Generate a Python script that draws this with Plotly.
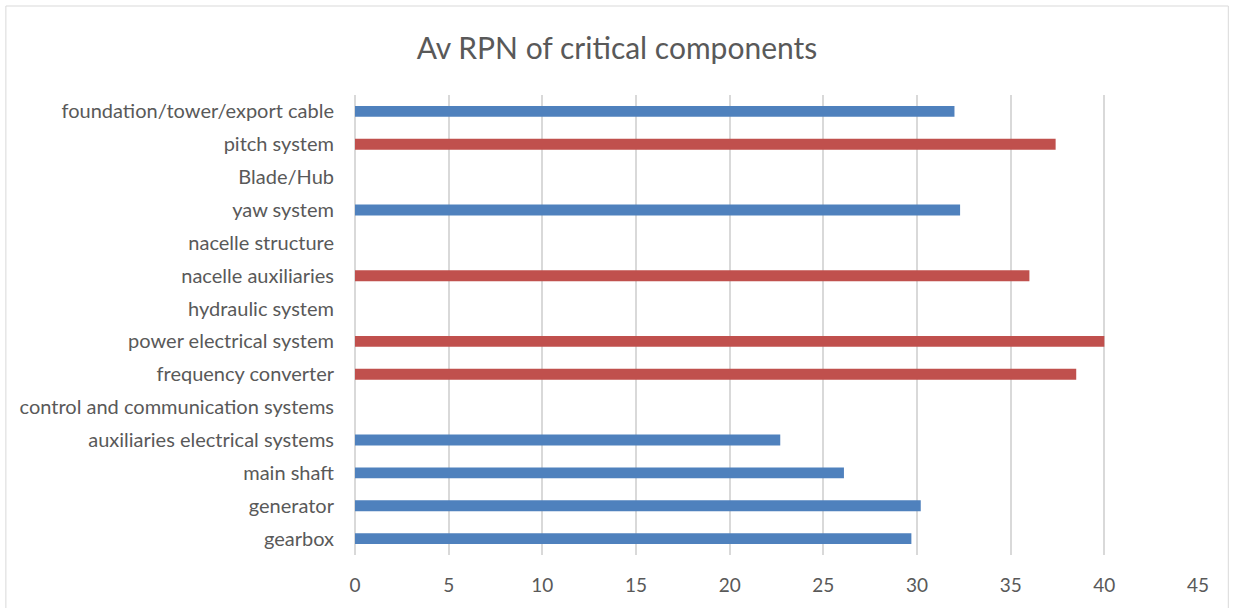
import plotly.graph_objects as go

categories = [
    "gearbox", "generator", "main shaft", "auxiliaries electrical systems",
    "control and communication systems", "frequency converter",
    "power electrical system", "hydraulic system", "nacelle auxiliaries",
    "nacelle structure", "yaw system", "Blade/Hub", "pitch system",
    "foundation/tower/export cable",
]
blue_values = [29.7, 30.2, 26.1, 22.7, None, None, None, None, None, None, 32.3, None, None, 32.0]
red_values = [None, None, None, None, None, 38.5, 40.0, None, 36.0, None, None, None, 37.4, None]
x_ticks = [0, 5, 10, 15, 20, 25, 30, 35, 40, 45]

BLUE = "#4F81BD"
RED = "#C0504D"
TXT = "#595959"
FONT = "Lato"

fig = go.Figure()
fig.add_trace(go.Bar(y=categories, x=blue_values, orientation="h",
                     marker=dict(color=BLUE, line=dict(width=0)), width=0.33,
                     name="blue"))
fig.add_trace(go.Bar(y=categories, x=red_values, orientation="h",
                     marker=dict(color=RED, line=dict(width=0)), width=0.33,
                     name="red"))

fig.update_layout(
    width=1234, height=608,
    margin=dict(l=355, r=36, t=95, b=53),
    paper_bgcolor="white", plot_bgcolor="white",
    barmode="overlay", showlegend=False,
    title=dict(text="Av RPN of critical components", x=0.5, xanchor="center",
               y=1 - 48 / 608, yanchor="middle",
               font=dict(family=FONT, size=30, color=TXT)),
    font=dict(family=FONT, color=TXT),
    xaxis=dict(range=[0, 45], tickvals=x_ticks, showgrid=True,
               gridcolor="#D9D9D9", gridwidth=1.5, zeroline=True,
               zerolinecolor="#D9D9D9", zerolinewidth=1.5, showline=False,
               tickfont=dict(family=FONT, size=19, color=TXT),
               ticklabelstandoff=17, fixedrange=True),
    yaxis=dict(categoryorder="array", categoryarray=categories,
               showgrid=False, showline=False, ticks="",
               tickfont=dict(family=FONT, size=20, color=TXT),
               ticklabelstandoff=20, fixedrange=True),
    shapes=[dict(type="rect", xref="paper", yref="paper",
                 x0=-349 / 842.7, x1=(1228 - 355) / 842.7,
                 y0=-60 / 460, y1=(555 - 6) / 460,
                 line=dict(color="#D9D9D9", width=1), fillcolor="rgba(0,0,0,0)",
                 layer="below")],
)

fig.write_html("out.html", config={"displayModeBar": False},
               post_script="document.body.style.margin='0';")
